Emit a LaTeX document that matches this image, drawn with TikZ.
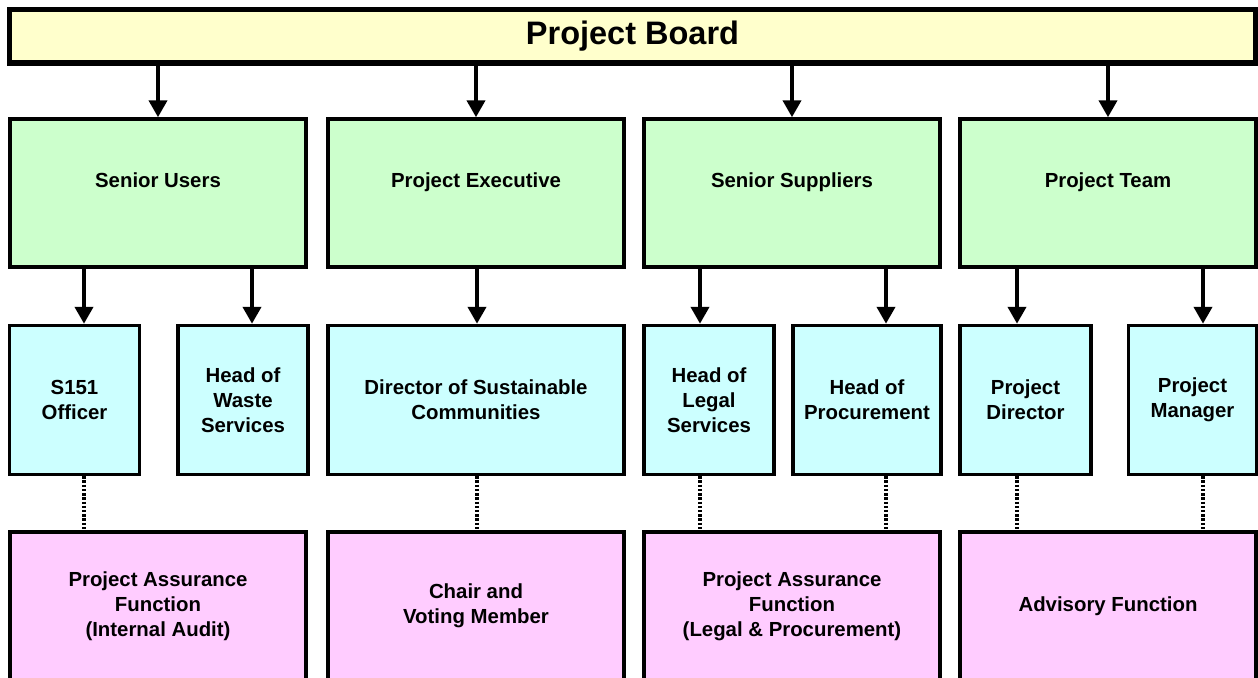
\documentclass[tikz,border=0pt]{standalone}
\usepackage{fontspec}
\setmainfont{Liberation Sans}
\usepackage{tikz}
\usetikzlibrary{arrows.meta}
\usetikzlibrary{positioning}
\definecolor{boardyellow}{RGB}{255, 255, 204}
\definecolor{rolegreen}{RGB}{204, 255, 204}
\definecolor{personcyan}{RGB}{204, 255, 255}
\definecolor{assurepink}{RGB}{255, 204, 255}
\tikzset{
  box/.style={draw=black, line width=2pt, inner sep=2pt, align=center,
              font=\fontsize{11.6}{14.2}\selectfont\bfseries},
  boardbox/.style={box, fill=boardyellow, line width=2.85pt, minimum width=24.92cm, minimum height=1.07cm,
              font=\fontsize{18.5}{22}\selectfont\bfseries},
  rolebox/.style={box, fill=rolegreen, minimum width=5.92cm, minimum height=2.96cm,
              text height=0.32cm, text depth=0.55cm},
  personbox/.style={box, fill=personcyan, minimum height=2.98cm},
  assurebox/.style={box, fill=assurepink, minimum width=5.92cm, minimum height=2.96cm},
  down/.style={line width=2.3pt, -{Triangle[length=0.34cm, width=0.36cm]}},
  link/.style={line width=2.1pt, dash pattern=on 1.4pt off 1.0pt},
}
\begin{document}
\begin{tikzpicture}[x=0.02cm, y=-0.02cm]
  \path[use as bounding box] (0,0) rectangle (1258,677);
  \clip (0,0) rectangle (1258,677);

  \node[boardbox]                      (board) at ( 632.5, 36.25) {Project Board};

  \node[rolebox]                       (su)    at ( 158, 193) {Senior Users};
  \node[rolebox]                       (pe)    at ( 476, 193) {Project Executive};
  \node[rolebox]                       (ss)    at ( 792, 193) {Senior Suppliers};
  \node[rolebox]                       (pt)    at (1108, 193) {Project Team};

  \node[personbox, minimum width=2.60cm] (s151)  at (  74.5, 400) {S151\\Officer};
  \node[personbox, minimum width=2.60cm] (waste) at ( 243, 400) {Head of\\Waste\\Services};
  \node[personbox, minimum width=5.92cm] (dsc)   at ( 476, 400) {Director of Sustainable\\Communities};
  \node[personbox, minimum width=2.60cm] (legal) at ( 709, 400) {Head of\\Legal\\Services};
  \node[personbox, minimum width=2.96cm] (proc)  at ( 867, 400) {Head of\\Procurement};
  \node[personbox, minimum width=2.62cm] (pdir)  at (1025.5, 400) {Project\\Director};
  \node[personbox, minimum width=2.56cm] (pman)  at (1192.5, 400) {Project\\Manager};

  \node[assurebox]                     (pa1)   at ( 158, 606) {Project Assurance\\Function\\(Internal Audit)};
  \node[assurebox]                     (chair) at ( 476, 606) {Chair and\\Voting Member};
  \node[assurebox]                     (pa2)   at ( 792, 606) {Project Assurance\\Function\\(Legal \& Procurement)};
  \node[assurebox]                     (adv)   at (1108, 606) {Advisory Function};

  \draw[down] (board.south -| su.north) -- (su.north);
  \draw[down] (board.south -| pe.north) -- (pe.north);
  \draw[down] (board.south -| ss.north) -- (ss.north);
  \draw[down] (board.south -| pt.north) -- (pt.north);

  \coordinate (l1) at (  84, 0);
  \coordinate (l2) at ( 252, 0);
  \coordinate (l3) at ( 477, 0);
  \coordinate (l4) at ( 700, 0);
  \coordinate (l5) at ( 886, 0);
  \coordinate (l6) at (1017, 0);
  \coordinate (l7) at (1203, 0);

  \draw[down] (su.south -| l1) -- (s151.north -| l1);
  \draw[down] (su.south -| l2) -- (waste.north -| l2);
  \draw[down] (pe.south -| l3) -- (dsc.north -| l3);
  \draw[down] (ss.south -| l4) -- (legal.north -| l4);
  \draw[down] (ss.south -| l5) -- (proc.north -| l5);
  \draw[down] (pt.south -| l6) -- (pdir.north -| l6);
  \draw[down] (pt.south -| l7) -- (pman.north -| l7);

  \draw[link] (s151.south -| l1)  -- (pa1.north -| l1);
  \draw[link] (dsc.south -| l3)   -- (chair.north -| l3);
  \draw[link] (legal.south -| l4) -- (pa2.north -| l4);
  \draw[link] (proc.south -| l5)  -- (pa2.north -| l5);
  \draw[link] (pdir.south -| l6)  -- (adv.north -| l6);
  \draw[link] (pman.south -| l7)  -- (adv.north -| l7);
\end{tikzpicture}
\end{document}
